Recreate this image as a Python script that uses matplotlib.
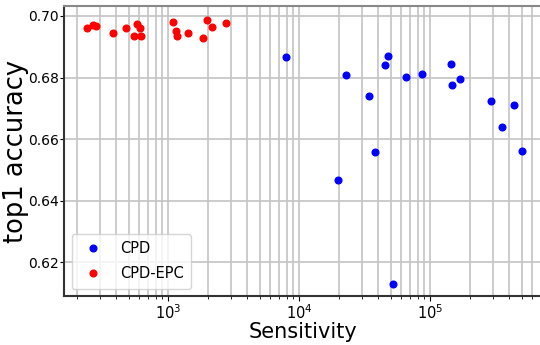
import numpy as np
import matplotlib
matplotlib.use('Agg')
import matplotlib.pyplot as plt

# CPD points (sensitivity, top1 accuracy)
cpd_sens = [7900, 19600, 22600, 34200, 37800, 45100, 47300, 51600, 65600, 86500,
            144600, 145500, 169400, 290500, 354500, 437500, 503500]
cpd_acc = [0.6867, 0.6467, 0.6809, 0.6739, 0.6558, 0.6840, 0.6869, 0.6129, 0.6803, 0.6811,
           0.6844, 0.6777, 0.6796, 0.6724, 0.6638, 0.6711, 0.6560]

# CPD-EPC points
epc_sens = [238, 267, 279, 377, 478, 544, 580, 608, 616, 1086,
            1138, 1159, 1406, 1841, 1973, 2166, 2742]
epc_acc = [0.6962, 0.6971, 0.6968, 0.6946, 0.6960, 0.6936, 0.6973, 0.6961, 0.6935, 0.6981,
           0.6951, 0.6936, 0.6944, 0.6927, 0.6988, 0.6964, 0.6977]

y_ticks = [0.62, 0.64, 0.66, 0.68, 0.70]

fig = plt.figure(figsize=(5.4, 3.45), dpi=100)
ax = fig.add_axes([0.119, 0.142, 0.886, 0.8406])

ax.plot(cpd_sens, cpd_acc, 'o', color='blue', markersize=4.8, label='CPD', zorder=3)
ax.plot(epc_sens, epc_acc, 'o', color='red', markersize=4.8, label='CPD-EPC', zorder=3)

ax.set_xscale('log')
ax.set_xlim(160.7, 721000)
ax.set_ylim(0.6091, 0.7032)
ax.set_yticks(y_ticks)
ax.set_yticklabels(['%.2f' % v for v in y_ticks])

ax.grid(True, which='major', color='#c4c4c4', linewidth=1.2)
ax.grid(True, which='minor', axis='x', color='#c4c4c4', linewidth=1.2)
ax.set_axisbelow(True)

ax.tick_params(labelsize=10.5, pad=2)
ax.tick_params(axis='y', labelsize=10, pad=0.8, length=3)
ax.set_xlabel('Sensitivity', fontsize=15, labelpad=0)
ax.set_ylabel('top1 accuracy', fontsize=18.5)
ax.yaxis.set_label_coords(-0.073, 0.5)

for s in ['left', 'bottom']:
    ax.spines[s].set_color('#333333')
    ax.spines[s].set_linewidth(1.5)
ax.spines['top'].set_color('#888888')
ax.spines['top'].set_linewidth(1.5)

ax.legend(loc='lower left', fontsize=10.5, labelspacing=0.7, borderpad=0.5)

plt.savefig('out.png', dpi=100)
